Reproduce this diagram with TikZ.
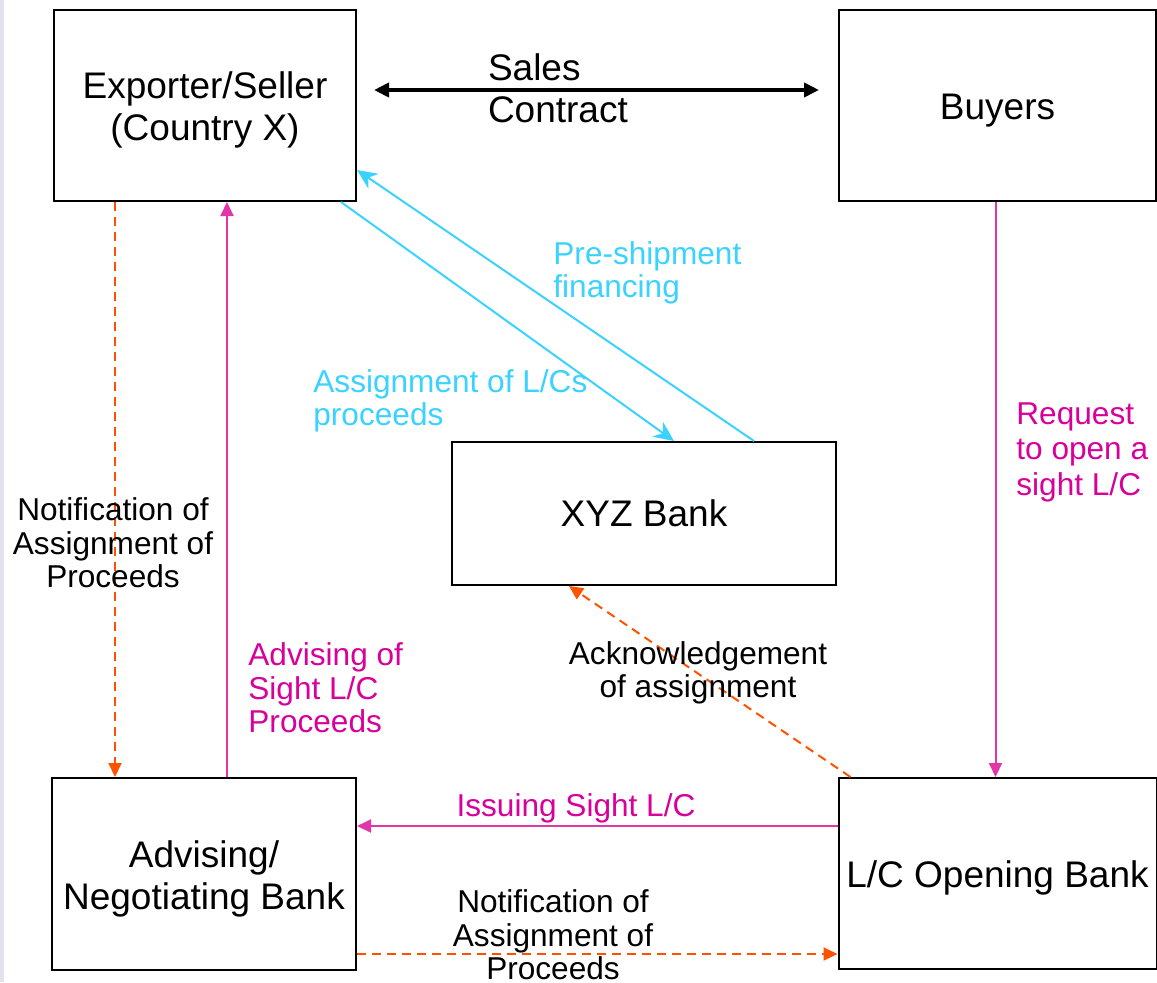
\documentclass[tikz,border=0pt]{standalone}
\usepackage{fontspec}
\setmainfont{Liberation Sans}
\usetikzlibrary{arrows.meta,calc}
\definecolor{lcyan}{HTML}{3AD2FF}
\definecolor{lmag}{HTML}{E236A8}
\definecolor{tmag}{HTML}{D8009A}
\definecolor{lorange}{HTML}{FF5200}
\definecolor{strip}{HTML}{E2E2EE}
\newcommand\boxtxt[1]{\begin{tabular}{@{}c@{}}\rule{0pt}{20.7pt}#1\end{tabular}}
\tikzset{
  box/.style={draw, line width=1pt, inner sep=0pt, align=center,
    font=\fontsize{18.5}{21}\selectfont},
  lbl/.style={inner sep=0pt, font=\fontsize{15.8}{16.8}\selectfont},
  cyanline/.style={draw=lcyan, line width=1pt, -{Stealth[length=10pt,width=9pt]}},
  magline/.style={draw=lmag, line width=1pt, -{Triangle[length=7pt,width=6.5pt]}},
  orline/.style={draw=lorange, line width=1pt, dash pattern=on 4.5pt off 3pt,
    -{Triangle[length=7pt,width=6.5pt]}}
}
\begin{document}
\begin{tikzpicture}[x=0.5pt,y=-0.5pt]
  \useasboundingbox (0,0) rectangle (1157,982);
  \fill[strip] (0,0) rectangle (4,982);
  \draw
    (205,105.5) node[box, minimum width=151pt, minimum height=95.5pt] (exp){\boxtxt{Exporter/Seller\\(Country X)}}
    (997.5,105.5) node[box, minimum width=158.5pt, minimum height=95.5pt] (buy){\boxtxt{Buyers}}
    (644,513.5) node[box, minimum width=192pt, minimum height=71.5pt] (xyz){XYZ Bank}
    (204,874) node[box, minimum width=152pt, minimum height=96pt] (adv){\boxtxt{Advising/\\Negotiating Bank}}
    (997.5,873.5) node[box, minimum width=159pt, minimum height=95.5pt] (lco){\boxtxt{L/C Opening Bank}};
  \draw[line width=2pt, {Triangle[length=7.5pt,width=7pt]}-{Triangle[length=7.5pt,width=7pt]}]
    ($(exp.east)+(17,-15.5)$) coordinate (s1) -- ($(buy.west)+(-19,-15.5)$) coordinate (s2);
  \node[lbl, box, draw=none, anchor=west, align=left] (sales) at (487,88) {Sales\\Contract};
  \begin{scope}[lcyan]
    \draw[cyanline] ($(xyz.north west)+(303,0)$) -- ($(exp.east)+(0,64.5)$);
    \draw[cyanline] ($(exp.south east)+(-16,0)$) -- ($(xyz.north west)+(223,0)$);
    \node[lbl, anchor=west, align=left] (pre) at (553,273) {Pre-shipment\\financing};
    \node[lbl, anchor=west, align=left] (asg) at (313,401) {Assignment of L/Cs\\proceeds};
  \end{scope}
  \draw[orline] ($(exp.south west)+(62,0)$) -- ($(adv.north west)+(64,0)$);
  \node[lbl, align=center] (not1) at (113,543) {Notification of\\Assignment of\\Proceeds};
  \draw[magline] ($(adv.north west)+(176,0)$) -- ($(exp.south west)+(174,0)$);
  \node[lbl, tmag, anchor=west, align=left] (advl) at (248,688) {Advising of\\Sight L/C\\Proceeds};
  \draw[magline] ($(buy.south)+(-2,0)$) -- ($(lco.north)+(-2,0)$);
  \node[lbl, tmag, anchor=west, align=left, font=\fontsize{15.8}{17.8}\selectfont] (req) at (1016,452) {Request\\to open a\\sight L/C};
  \draw[magline] ($(lco.west)+(0,-47.5)$) -- ($(adv.east)+(0,-48)$);
  \node[lbl, tmag] (iss) at (576,808) {Issuing Sight L/C};
  \draw[orline] ($(adv.east)+(0,80)$) -- ($(lco.west)+(0,80.5)$);
  \node[lbl, align=center] (not2) at (553,935) {Notification of\\Assignment of\\Proceeds};
  \draw[orline] ($(lco.north west)+(13,0)$) -- ($(xyz.south west)+(118,0)$);
  \node[lbl, align=center] (ack) at (698,673) {Acknowledgement\\of assignment};
\end{tikzpicture}
\end{document}
